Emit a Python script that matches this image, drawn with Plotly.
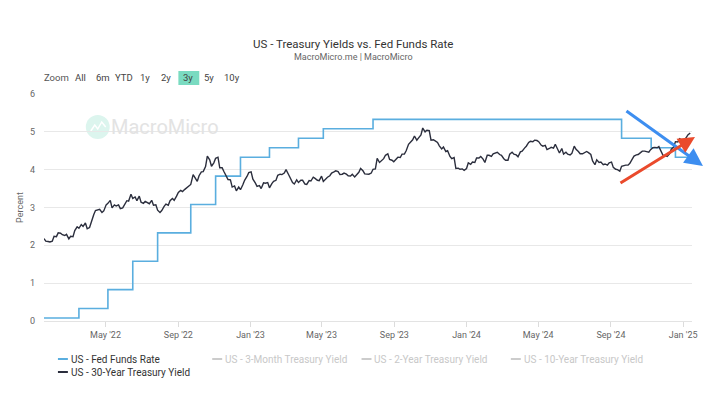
import pandas as pd
import plotly.graph_objects as go

# ---------------- data ----------------
TITLE = "US - Treasury Yields vs. Fed Funds Rate"
SUBTITLE = "MacroMicro.me | MacroMicro"

# Effective Fed Funds Rate (step changes)
fed_dates = ["2022-01-17", "2022-03-17", "2022-05-05", "2022-06-16", "2022-07-28",
             "2022-09-22", "2022-11-03", "2022-12-15", "2023-02-02", "2023-03-23",
             "2023-05-04", "2023-07-27", "2024-09-19", "2024-11-08", "2024-12-19",
             "2025-01-16"]
fed_vals = [0.08, 0.33, 0.83, 1.58, 2.33, 3.08, 3.83, 4.33, 4.58, 4.83,
            5.08, 5.33, 4.83, 4.58, 4.33, 4.33]

# 30-Year Treasury yield, Monday & Thursday readings from week of 2022-01-17
y30_start = "2022-01-17"
y30_vals = [
    # 2022
    2.18, 2.11, 2.10, 2.09, 2.11, 2.24, 2.23, 2.33, 2.32, 2.28, 2.26, 2.29,
    2.17, 2.24, 2.23, 2.39, 2.49, 2.45, 2.55, 2.50, 2.59, 2.44, 2.47, 2.64,
    2.81, 2.92, 2.94, 2.95, 2.87, 2.91, 3.07, 3.11, 3.19, 2.99, 3.07, 3.04,
    3.07, 2.97, 2.99, 3.09, 3.18, 3.17, 3.35, 3.24, 3.28, 3.18, 3.30, 3.14,
    3.11, 3.16, 3.12, 3.10, 3.19, 3.06, 3.07, 2.93, 2.87, 2.92, 3.03, 3.09,
    3.06, 3.18, 3.24, 3.19, 3.30, 3.40, 3.45, 3.42, 3.48, 3.52, 3.57, 3.61,
    3.87, 3.80, 3.69, 3.84, 3.94, 3.95, 4.08, 4.36, 4.26, 4.09, 4.18, 4.30,
    4.33, 4.05, 4.05, 3.95, 3.82, 3.74, 3.73, 3.54, 3.57, 3.44, 3.54, 3.47,
    3.60, 3.72, 3.82, 3.92,
    # 2023
    3.94, 3.75, 3.65, 3.56, 3.58, 3.50, 3.65, 3.64, 3.66, 3.52, 3.63, 3.69,
    3.72, 3.85, 3.88, 3.87, 3.91, 4.00, 3.88, 3.78, 3.66, 3.62, 3.73, 3.66,
    3.72, 3.72, 3.62, 3.61, 3.71, 3.70, 3.80, 3.77, 3.72, 3.71, 3.83, 3.69,
    3.76, 3.80, 3.84, 3.91, 3.94, 3.97, 3.95, 3.87, 3.88, 3.91, 3.88, 3.84,
    3.83, 3.88, 3.81, 3.86, 3.93, 4.03, 3.97, 3.89, 3.88, 3.88, 3.91, 4.01,
    4.02, 4.30, 4.19, 4.23, 4.29, 4.38, 4.42, 4.27, 4.25, 4.21, 4.29, 4.33,
    4.32, 4.41, 4.41, 4.50, 4.67, 4.71, 4.79, 4.89, 4.78, 4.84, 4.92, 5.10,
    5.00, 5.04, 5.03, 4.78, 4.79, 4.76, 4.72, 4.63, 4.55, 4.60, 4.48, 4.50,
    4.35, 4.29, 4.32, 4.03, 4.04, 4.01, 4.02, 3.98,
    # 2024
    4.03, 4.18, 4.14, 4.20, 4.19, 4.31, 4.31, 4.35, 4.28, 4.19, 4.38, 4.38,
    4.35, 4.42, 4.45, 4.46, 4.40, 4.38, 4.29, 4.25, 4.25, 4.41, 4.46, 4.41,
    4.39, 4.34, 4.47, 4.49, 4.57, 4.62, 4.72, 4.75, 4.74, 4.78, 4.77, 4.74,
    4.65, 4.62, 4.64, 4.53, 4.56, 4.59, 4.57, 4.67, 4.54, 4.44, 4.56, 4.41,
    4.46, 4.41, 4.39, 4.43, 4.62, 4.54, 4.48, 4.42, 4.42, 4.45, 4.48, 4.45,
    4.40, 4.23, 4.13, 4.26, 4.19, 4.20, 4.13, 4.15, 4.12, 4.18, 4.20, 4.06,
    4.01, 4.00, 3.96, 4.09, 4.11, 4.12, 4.12, 4.17, 4.28, 4.36, 4.39, 4.40,
    4.45, 4.49, 4.49, 4.47, 4.46, 4.53, 4.58, 4.59, 4.58, 4.61, 4.48, 4.38,
    4.37, 4.35, 4.42, 4.54, 4.60, 4.74, 4.73, 4.82, 4.78, 4.79,
    # 2025
    4.84, 4.92, 4.97,
]

x_range = ["2022-01-17", "2025-01-16"]
x_tickvals = ["2022-05-01", "2022-09-01", "2023-01-01", "2023-05-01", "2023-09-01",
              "2024-01-01", "2024-05-01", "2024-09-01", "2025-01-01"]
x_ticktext = ["May '22", "Sep '22", "Jan '23", "May '23", "Sep '23",
              "Jan '24", "May '24", "Sep '24", "Jan '25"]
y_tickvals = [0, 1, 2, 3, 4, 5, 6]

range_label = "Zoom"
range_buttons = ["All", "6m", "YTD", "1y", "2y", "3y", "5y", "10y"]
active_button = "3y"

legend_names = ["US - Fed Funds Rate", "US - 3-Month Treasury Yield",
                "US - 2-Year Treasury Yield", "US - 10-Year Treasury Yield",
                "US - 30-Year Treasury Yield"]
legend_active = [True, False, False, False, True]

# ---------------- styling ----------------
FONT = "Roboto, Liberation Sans, sans-serif"
BLUE = "#5aaedf"
DARK = "#2b2e3d"
GRID = "#e8e8e8"

# page offset of the plot div (browser default body margin)
OFF = 8
# plot area in page pixels
L, R, T, B = 41, 692, 94, 321
PAGE_W, PAGE_H = 718, 397
W, H = PAGE_W - OFF, PAGE_H - OFF
PAD = 3  # inner padding plotly adds around annotation text


def PX(x):
    return (x - L) / (R - L)


def PY(y):
    return (B - y) / (B - T)


# dates for Monday/Thursday readings
mondays = pd.date_range(y30_start, periods=(len(y30_vals) + 1) // 2, freq="7D")
dates = []
for i in range(len(y30_vals)):
    d = mondays[i // 2]
    if i % 2 == 1:
        d = d + pd.Timedelta(days=3)
    dates.append(d)

fig = go.Figure()
fig.add_trace(go.Scatter(x=pd.to_datetime(fed_dates), y=fed_vals, mode="lines",
                         line=dict(color=BLUE, width=1.6, shape="hv"),
                         name=legend_names[0], showlegend=False, hoverinfo="skip"))
fig.add_trace(go.Scatter(x=dates, y=y30_vals, mode="lines",
                         line=dict(color=DARK, width=1.4),
                         name=legend_names[4], showlegend=False, hoverinfo="skip"))

annotations = []
shapes = []


def text_left(txt, x, y, size, color):
    annotations.append(dict(text=txt, x=PX(x - PAD), y=PY(y), xref="paper", yref="paper",
                            showarrow=False, xanchor="left", yanchor="middle",
                            font=dict(family=FONT, size=size, color=color)))


# title and subtitle
annotations.append(dict(text=TITLE, x=PX(351), y=PY(44), xref="paper", yref="paper",
                        showarrow=False, xanchor="center", yanchor="middle",
                        font=dict(family=FONT, size=11.5, color="#333333")))
annotations.append(dict(text=SUBTITLE, x=PX(352), y=PY(57), xref="paper", yref="paper",
                        showarrow=False, xanchor="center", yanchor="middle",
                        font=dict(family=FONT, size=9, color="#666666")))

# range selector row
btn_x = [73, 94, 113, 138, 160, 182, 203, 223]
text_left(range_label, 42, 78, 9.5, "#555555")
for lab, bx in zip(range_buttons, btn_x):
    if lab == active_button:
        shapes.append(dict(type="rect", xref="paper", yref="paper",
                           x0=PX(176), x1=PX(197), y0=PY(85), y1=PY(71),
                           fillcolor="#7adbc1", line=dict(width=0), layer="below"))
    text_left(lab, bx, 78, 9.5, "#444444")

# watermark
shapes.append(dict(type="circle", xref="paper", yref="paper",
                   x0=PX(83), x1=PX(107), y0=PY(139), y1=PY(115),
                   fillcolor="#dcf5ee", line=dict(width=0), layer="below"))
shapes.append(dict(type="path", xref="paper", yref="paper",
                   path="M %f %f L %f %f L %f %f L %f %f L %f %f" % (
                       PX(88), PY(131), PX(92), PY(125), PX(95), PY(129),
                       PX(99), PY(122), PX(103), PY(127)),
                   line=dict(color="white", width=1.5), layer="below"))
text_left("MacroMicro", 109, 127, 20, "#e3e3e3")

# arrows
annotations.append(dict(text="", x=PX(703), y=PY(166), xref="paper", yref="paper",
                        ax=-78, ay=-56, showarrow=True, arrowhead=2, arrowsize=1.2,
                        arrowwidth=3, arrowcolor="#3d8ef0", standoff=0))
annotations.append(dict(text="", x=PX(695), y=PY(137), xref="paper", yref="paper",
                        ax=-76, ay=47, showarrow=True, arrowhead=2, arrowsize=1.1,
                        arrowwidth=3, arrowcolor="#ea4a2c", standoff=0))

# manual legend
leg_pos = [(55, 359), (210, 359), (360, 359), (510, 359), (55, 372)]
leg_colors = [BLUE, "#cccccc", "#cccccc", "#cccccc", DARK]
for name, active, (lx, ly), col in zip(legend_names, legend_active, leg_pos, leg_colors):
    shapes.append(dict(type="line", xref="paper", yref="paper",
                       x0=PX(lx), x1=PX(lx + 10), y0=PY(ly), y1=PY(ly),
                       line=dict(color=col, width=2)))
    text_left(name, lx + 14, ly, 10, "#333333" if active else "#c8c8c8")

fig.update_layout(
    width=W, height=H,
    margin=dict(l=L - OFF, r=PAGE_W - R, t=T - OFF, b=PAGE_H - B, pad=0),
    paper_bgcolor="white", plot_bgcolor="white",
    showlegend=False,
    font=dict(family=FONT, color="#666666"),
    annotations=annotations, shapes=shapes,
    xaxis=dict(type="date", range=x_range, tickvals=x_tickvals, ticktext=x_ticktext,
               ticks="outside", ticklen=5, tickcolor="#dcdcdc", showgrid=False,
               showline=True, linecolor="#e3e3e3", linewidth=1, zeroline=False,
               tickfont=dict(family=FONT, size=9, color="#666666"), fixedrange=True),
    yaxis=dict(range=[0, 6], tickvals=y_tickvals, showgrid=True, gridcolor=GRID,
               zeroline=False, showline=False, ticks="", ticklabelstandoff=8,
               tickfont=dict(family=FONT, size=9, color="#666666"),
               title=dict(text="Percent", font=dict(family=FONT, size=9, color="#666666"),
                          standoff=4)),
)

fig.write_html("out.html")
